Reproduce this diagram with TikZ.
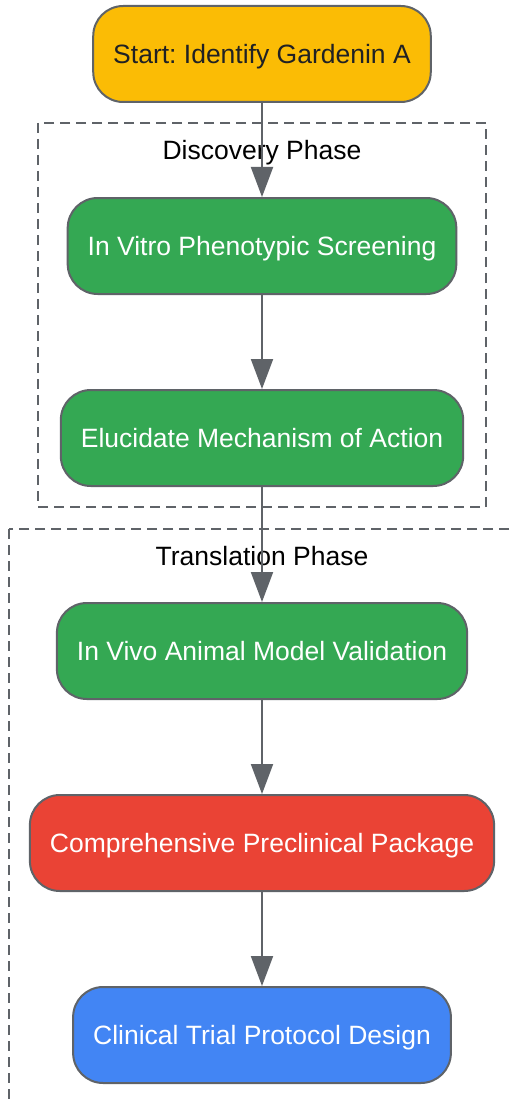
\documentclass[tikz,border=0pt]{standalone}
\usepackage{fontspec}
\setmainfont{Liberation Sans}
\usetikzlibrary{arrows.meta}
\definecolor{edgegray}{HTML}{5F6368}
\definecolor{startyellow}{HTML}{FBBC05}
\definecolor{stepgreen}{HTML}{34A853}
\definecolor{packred}{HTML}{EA4335}
\definecolor{trialblue}{HTML}{4285F4}
\definecolor{darktext}{HTML}{202124}
\frenchspacing

\begin{document}
\begin{tikzpicture}[x=1pt, y=-1pt,
  phasebox/.style={draw=edgegray, line width=2pt, dash pattern=on 10pt off 6pt},
  phaselabel/.style={font=\fontsize{26.5}{30}\selectfont, text=black,
    text height=19pt, text depth=0pt},
  stepbox/.style={draw=edgegray, line width=2pt, rounded corners=30pt,
    minimum height=96pt, inner xsep=20pt, text=white,
    text height=19pt, text depth=0pt,
    font=\fontsize{26.5}{30}\selectfont},
  flow/.style={draw=edgegray, line width=2pt,
    -{Triangle[width=22pt, length=30pt]}}]

\useasboundingbox (0,0) rectangle (513,1102);
\clip (0,0) rectangle (513,1102);
\fill[white] (0,0) rectangle (513,1102);

% Phase clusters
\draw[phasebox] (38,123) rectangle (486,507);
\node[phaselabel] (discovery) at (262,150) {Discovery Phase};
\draw[phasebox] (9,529) rectangle (530,1130);
\node[phaselabel] (translation) at (262,556) {Translation Phase};

% Workflow steps
\node[stepbox, fill=startyellow, text=darktext] (start) at (262,54) {Start: Identify Gardenin A};
\node[stepbox, fill=stepgreen] (vitro) at (262,246) {In Vitro Phenotypic Screening};
\node[stepbox, fill=stepgreen] (moa) at (262,438) {Elucidate Mechanism of Action};
\node[stepbox, fill=stepgreen] (vivo) at (262,651) {In Vivo Animal Model Validation};
\node[stepbox, fill=packred] (package) at (262,843) {Comprehensive Preclinical Package};
\node[stepbox, fill=trialblue] (trial) at (262,1035) {Clinical Trial Protocol Design};

% Arrows
\draw[flow] (start) -- (vitro);
\draw[flow] (vitro) -- (moa);
\draw[flow] (moa) -- (vivo);
\draw[flow] (vivo) -- (package);
\draw[flow] (package) -- (trial);

\end{tikzpicture}
\end{document}
